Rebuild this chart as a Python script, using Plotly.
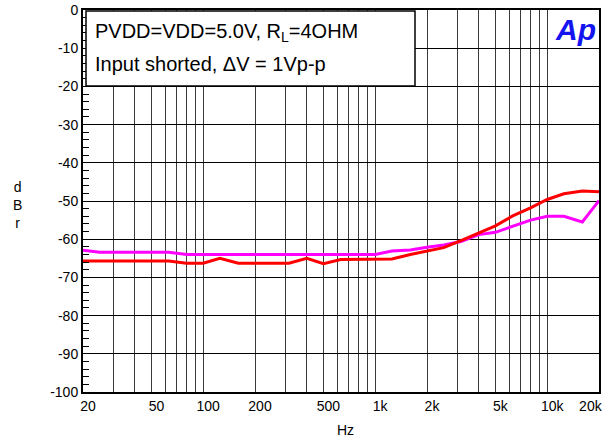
import plotly.graph_objects as go

freq = [20, 25, 31.5, 40, 50, 63, 80, 100, 125, 160, 200, 250, 315, 400, 500, 630,
        800, 1000, 1250, 1600, 2000, 2500, 3150, 4000, 5000, 6300, 8000, 10000,
        12500, 16000, 20000]
red_db = [-65.7, -65.7, -65.7, -65.7, -65.7, -65.7, -66.3, -66.3, -65.0, -66.3, -66.3,
          -66.3, -66.3, -65.0, -66.4, -65.3, -65.3, -65.3, -65.2, -64.0, -63.0, -62.2,
          -60.4, -58.3, -56.5, -53.9, -51.8, -49.6, -48.1, -47.4, -47.6]
magenta_db = [-62.9, -63.4, -63.4, -63.4, -63.4, -63.4, -64.0, -64.0, -64.0, -64.0, -64.0,
              -64.0, -64.0, -64.0, -64.0, -64.0, -64.0, -64.0, -63.1, -62.8, -62.1, -61.5,
              -60.6, -58.8, -58.2, -56.7, -55.0, -54.0, -54.0, -55.5, -49.9]

x_label_vals = [20, 50, 100, 200, 500, 1000, 2000, 5000, 10000, 20000]
x_label_text = ["20", "50", "100", "200", "500", "1k", "2k", "5k", "10k", "20k"]
y_tick_vals = [0, -10, -20, -30, -40, -50, -60, -70, -80, -90, -100]
y_tick_text = ["0", "-10", "-20", "-30", "-40", "-50", "-60", "-70", "-80", "-90", "-100"]

title_line1 = "PVDD=VDD=5.0V, R<sub>L</sub>=4OHM"
title_line2 = "Input shorted, \u0394V = 1Vp-p"

# grid positions: 20, 30..90, 100..900, ... 20000
grid_vals = [20] + [m * 10 ** d for d in (1, 2, 3) for m in range(1 if d > 1 else 3, 10)] + [10000, 20000]
grid_vals = sorted(set(grid_vals))
label_map = dict(zip(x_label_vals, x_label_text))
grid_text = []
for v in grid_vals:
    t = label_map.get(v, "")
    if v == 20000:
        t = t + "\u00a0" * 7
    grid_text.append(t)

FONT = "Liberation Sans, Arial, sans-serif"

fig = go.Figure()
fig.add_trace(go.Scatter(x=freq, y=magenta_db, mode="lines",
                         line=dict(color="#FF00FF", width=3), showlegend=False))
fig.add_trace(go.Scatter(x=freq, y=red_db, mode="lines",
                         line=dict(color="#FF0000", width=3), showlegend=False))

fig.update_layout(
    width=610, height=440,
    margin=dict(l=83, r=11, t=10, b=48, autoexpand=False),
    paper_bgcolor="white", plot_bgcolor="white",
    font=dict(family=FONT, size=14, color="black"),
    showlegend=False,
)
fig.update_xaxes(
    type="log", range=[1.30103, 4.30103],
    tickvals=grid_vals, ticktext=grid_text,
    showgrid=True, gridcolor="#3a3a3a", gridwidth=1,
    showline=True, linecolor="black", linewidth=2, mirror=True,
    ticks="", ticklabelshift=5, ticklabeloverflow="allow",
    tickfont=dict(size=14), zeroline=False, automargin=False,
)
fig.update_yaxes(
    range=[-100, 0],
    tickvals=y_tick_vals, ticktext=y_tick_text,
    showgrid=True, gridcolor="black", gridwidth=1,
    showline=True, linecolor="black", linewidth=2, mirror=True,
    ticks="inside", ticklen=6, tickcolor="black",
    minor=dict(dtick=2, ticks="inside", ticklen=6, tickcolor="black", showgrid=False),
    tickfont=dict(size=14), zeroline=False, automargin=False,
)

# legend/text box
fig.add_shape(type="rect", xref="paper", yref="paper",
              x0=3 / 516, x1=332 / 516, y0=1 - 76 / 382, y1=1 - 1 / 382,
              line=dict(color="black", width=1.5), fillcolor="white", layer="above")
fig.add_annotation(xref="paper", yref="paper", x=10 / 516, y=1 - 23 / 382,
                   xanchor="left", yanchor="middle", text=title_line1, showarrow=False,
                   font=dict(size=20, family=FONT, color="black"))
fig.add_annotation(xref="paper", yref="paper", x=10 / 516, y=1 - 54 / 382,
                   xanchor="left", yanchor="middle", text=title_line2, showarrow=False,
                   font=dict(size=20, family=FONT, color="black"))
# Ap logo
fig.add_annotation(xref="paper", yref="paper", x=515 / 516, y=1 - 20 / 382,
                   xanchor="right", yanchor="middle", text="<b><i>Ap</i></b>", showarrow=False,
                   font=dict(size=30, family=FONT, color="#1414F0"))
# axis titles
fig.add_annotation(xref="paper", yref="paper", x=-66 / 516, y=1 - 195 / 382,
                   xanchor="center", yanchor="middle", text="d<br>B<br>r", showarrow=False,
                   font=dict(size=14, family=FONT, color="black"))
fig.add_annotation(xref="paper", yref="paper", x=262 / 516, y=-38 / 382,
                   xanchor="center", yanchor="middle", text="Hz", showarrow=False,
                   font=dict(size=14, family=FONT, color="black"))

fig.write_html("out.html", config={"displayModeBar": False},
               post_script="document.body.style.margin='0';document.body.style.overflow='hidden';")
